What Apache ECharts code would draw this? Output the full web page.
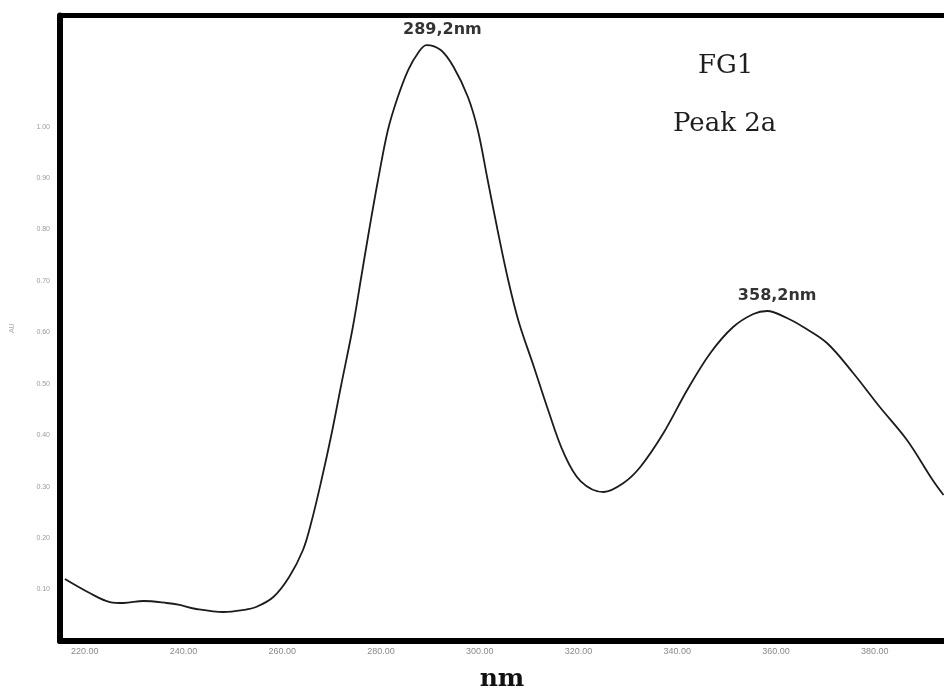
<!DOCTYPE html>
<html>
<head>
<meta charset="utf-8">
<title>FG1 Peak 2a UV spectrum</title>
<script src="https://cdn.jsdelivr.net/npm/echarts@6/dist/echarts.min.js"></script>
<style>
  html, body { margin: 0; padding: 0; background: #ffffff; }
  #chart { width: 944px; height: 691px; }
</style>
</head>
<body>
<div id="chart"></div>
<script>
// UV absorbance spectrum (wavelength in nm, absorbance in AU)
const wavelengths = [
  216.0, 221.0, 225.1, 227.9, 231.9, 236.6, 239.2, 242.6, 248.1, 252.1,
  254.7, 258.2, 261.4, 264.2, 265.9, 267.9, 269.9, 271.9, 274.3, 276.0,
  277.6, 279.4, 281.4, 283.4, 285.5, 287.5, 289.2, 292.1, 294.7, 297.6,
  299.6, 301.6, 303.6, 305.7, 307.9, 310.9, 313.7, 317.0, 320.4, 325.1,
  329.1, 332.5, 337.2, 342.0, 346.7, 351.3, 355.4, 358.2, 362.2, 365.5,
  370.3, 375.6, 381.0, 386.5, 391.7, 393.9
];
const absorbance = [
  0.1205, 0.0933, 0.0758, 0.0739, 0.0778, 0.0739, 0.0700, 0.0622, 0.0564, 0.0603,
  0.0661, 0.0855, 0.1244, 0.1769, 0.2313, 0.3110, 0.3985, 0.4957, 0.6104, 0.7076,
  0.7990, 0.8962, 0.9934, 1.0575, 1.1100, 1.1431, 1.1586, 1.1489, 1.1159, 1.0575,
  0.9934, 0.8962, 0.7990, 0.7038, 0.6201, 0.5346, 0.4530, 0.3655, 0.3110, 0.2897,
  0.3072, 0.3383, 0.4044, 0.4880, 0.5599, 0.6104, 0.6357, 0.6415, 0.6279, 0.6104,
  0.5793, 0.5210, 0.4549, 0.3907, 0.3130, 0.2838
];

// Annotated absorbance maxima
const peakWavelengths = [289.2, 358.2];
const peakLabelOffsets = [[16, 0], [10, 0]];

// Axis ticks
const xTickLabels = [220, 240, 260, 280, 300, 320, 340, 360, 380];
const yTickLabels = [0.1, 0.2, 0.3, 0.4, 0.5, 0.6, 0.7, 0.8, 0.9, 1.0];

// Sample captions
const sampleName = 'FG1';
const peakName = 'Peak 2a';

const spectrum = wavelengths.map((w, i) => [w, absorbance[i]]);
const peaks = peakWavelengths.map((w, i) => ({
  value: [w, absorbance[wavelengths.indexOf(w)]],
  label: { offset: peakLabelOffsets[i] }
}));

const chart = echarts.init(document.getElementById('chart'), null, { renderer: 'canvas' });

chart.setOption({
  backgroundColor: '#ffffff',
  animation: false,
  grid: {
    left: 60, right: 0, top: 15.5, bottom: 50,
    containLabel: false,
    outerBoundsMode: 'none'
  },
  xAxis: [
    {
      type: 'value',
      min: 215,
      max: 394,
      interval: 5,
      name: 'nm',
      nameLocation: 'middle',
      nameGap: 26,
      nameTextStyle: {
        fontFamily: 'DejaVu Serif',
        fontWeight: 'bold',
        fontSize: 25,
        color: '#111111'
      },
      axisLine: { show: true, onZero: false, lineStyle: { color: '#000000', width: 6 } },
      axisTick: { show: false },
      splitLine: { show: false },
      axisLabel: {
        margin: 6,
        fontFamily: 'Liberation Sans',
        fontSize: 9,
        color: '#8a8a8a',
        showMinLabel: true,
        showMaxLabel: true,
        formatter: v => (xTickLabels.indexOf(Math.round(v * 100) / 100) >= 0 ? v.toFixed(2) : '')
      }
    },
    {
      type: 'value',
      position: 'top',
      min: 215,
      max: 394,
      axisLine: { show: true, onZero: false, lineStyle: { color: '#000000', width: 5 } },
      axisTick: { show: false },
      axisLabel: { show: false },
      splitLine: { show: false }
    }
  ],
  yAxis: {
    type: 'value',
    min: 0,
    max: 1.216,
    interval: 0.1,
    name: 'AU',
    nameLocation: 'middle',
    nameRotate: 90,
    nameGap: 44,
    nameTextStyle: { fontFamily: 'Liberation Sans', fontSize: 7, color: '#aaaaaa' },
    axisLine: { show: true, onZero: false, lineStyle: { color: '#000000', width: 6 } },
    axisTick: { show: false },
    splitLine: { show: false },
    axisLabel: {
      margin: 10,
      fontFamily: 'Liberation Sans',
      fontSize: 7,
      color: '#9a9a9a',
      formatter: v => {
        const r = Math.round(v * 10) / 10;
        return yTickLabels.indexOf(r) >= 0 && Math.abs(v - r) < 1e-6 ? r.toFixed(2) : '';
      }
    }
  },
  series: [
    {
      type: 'line',
      data: spectrum,
      smooth: 0.35,
      showSymbol: false,
      lineStyle: { color: '#1c1c1c', width: 1.8 },
      z: 3
    },
    {
      type: 'scatter',
      data: peaks,
      symbolSize: 0,
      label: {
        show: true,
        position: 'top',
        distance: 7,
        fontFamily: 'DejaVu Sans',
        fontWeight: 'bold',
        fontSize: 16,
        color: '#000000',
        formatter: p => p.value[0].toFixed(1).replace('.', ',') + 'nm'
      },
      z: 4
    }
  ],
  graphic: [
    {
      type: 'text',
      left: 698,
      top: 53,
      style: { text: sampleName, font: '26px "DejaVu Serif"', fill: '#1e1e1e' }
    },
    {
      type: 'text',
      left: 673,
      top: 111,
      style: { text: peakName, font: '26px "DejaVu Serif"', fill: '#1e1e1e' }
    }
  ]
});
</script>
</body>
</html>
